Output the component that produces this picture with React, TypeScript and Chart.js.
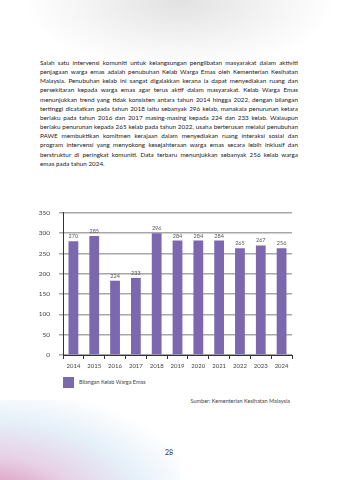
import React, { useEffect, useRef } from "react";
import { Chart, registerables } from "chart.js";

Chart.register(...registerables);

const years = ["2014", "2015", "2016", "2017", "2018", "2019", "2020", "2021", "2022", "2023", "2024"];
// bar heights as drawn in the reference
const barHeights = [280, 293, 183, 190, 300, 282, 282, 282, 263, 270, 263];
// value labels printed above the bars
const valueLabels = ["270", "285", "224", "233", "296", "284", "284", "284", "265", "267", "256"];
const yTicks = [0, 50, 100, 150, 200, 250, 300, 350];
const seriesName = "Bilangan Kelab Warga Emas";
const sourceText = "Sumber: Kementerian Kesihatan Malaysia";
const pageNumber = "28";

const paragraphLines = [
  "Salah satu intervensi komuniti untuk kelangsungan penglibatan masyarakat dalam aktiviti",
  "penjagaan warga emas adalah penubuhan Kelab Warga Emas oleh Kementerian Kesihatan",
  "Malaysia. Penubuhan kelab ini sangat digalakkan kerana ia dapat menyediakan ruang dan",
  "persekitaran kepada warga emas agar terus aktif dalam masyarakat. Kelab Warga Emas",
  "menunjukkan trend yang tidak konsisten antara tahun 2014 hingga 2022, dengan bilangan",
  "tertinggi dicatatkan pada tahun 2018 iaitu sebanyak 296 kelab, manakala penurunan ketara",
  "berlaku pada tahun 2016 dan 2017 masing-masing kepada 224 dan 233 kelab. Walaupun",
  "berlaku penurunan kepada 265 kelab pada tahun 2022, usaha berterusan melalui penubuhan",
  "PAWE membuktikan komitmen kerajaan dalam menyediakan ruang interaksi sosial dan",
  "program intervensi yang menyokong kesejahteraan warga emas secara lebih inklusif dan",
  "berstruktur di peringkat komuniti. Data terbaru menunjukkan sebanyak 256 kelab warga",
  "emas pada tahun 2024.",
];

const BAR_COLOR = "#7b68ae";
const FONT = "Lato, 'Open Sans', sans-serif";

const valueLabelPlugin = {
  id: "valueLabels",
  afterDatasetsDraw(chart: any) {
    const ctx = chart.ctx;
    const meta = chart.getDatasetMeta(0);
    ctx.save();
    ctx.font = `5.5px ${FONT}`;
    ctx.fillStyle = "#555";
    ctx.textAlign = "center";
    ctx.textBaseline = "bottom";
    meta.data.forEach((bar: any, i: number) => {
      ctx.fillText(valueLabels[i], bar.x, bar.y - 2);
    });
    ctx.restore();
  },
};

export default function App() {
  const canvasRef = useRef<HTMLCanvasElement>(null);

  useEffect(() => {
    const canvas = canvasRef.current;
    if (!canvas) return;
    const chart = new Chart(canvas, {
      type: "bar",
      data: {
        labels: years,
        datasets: [
          {
            label: seriesName,
            data: barHeights,
            backgroundColor: BAR_COLOR,
            borderWidth: 0,
            barPercentage: 0.47,
            categoryPercentage: 1,
          },
        ],
      },
      options: {
        responsive: false,
        animation: false,
        devicePixelRatio: 1,
        layout: { padding: { top: 10, right: 18, left: 0, bottom: 0 } },
        plugins: {
          legend: { display: false },
          tooltip: { enabled: false },
        },
        scales: {
          x: {
            grid: {
              display: true,
              drawOnChartArea: false,
              offset: true,
              tickLength: 4,
              color: "#333",
              lineWidth: 1,
            },
            border: { display: true, color: "#333", width: 1 },
            ticks: {
              color: "#444",
              font: { size: 6, family: FONT },
              padding: 3,
              maxRotation: 0,
              autoSkip: false,
            },
            afterFit: (scale: any) => {
              scale.height = 20;
            },
          },
          y: {
            min: 0,
            max: 350,
            afterBuildTicks: (scale: any) => {
              scale.ticks = yTicks.map((v) => ({ value: v }));
            },
            grid: {
              color: "#a8a8a8",
              lineWidth: 1.5,
              tickLength: 4,
            },
            border: { display: true, color: "#333", width: 1 },
            ticks: {
              color: "#444",
              font: { size: 6.5, family: FONT },
              padding: 9,
            },
            afterFit: (scale: any) => {
              scale.width = 43;
            },
          },
        },
      },
      plugins: [valueLabelPlugin],
    });
    return () => chart.destroy();
  }, []);

  return (
    <div
      style={{
        position: "absolute",
        left: 0,
        top: 0,
        width: 339,
        height: 480,
        overflow: "hidden",
        background: "#fff",
        fontFamily: FONT,
      }}
    >
      <div
        style={{
          position: "absolute",
          left: 30,
          top: -50,
          width: 300,
          height: 115,
          background:
            "radial-gradient(ellipse at 50% 45%, rgba(190,190,190,0.45), rgba(220,220,220,0.25) 50%, rgba(255,255,255,0) 75%)",
        }}
      />
      <div
        style={{
          position: "absolute",
          left: -50,
          top: 400,
          width: 230,
          height: 130,
          background:
            "radial-gradient(ellipse at 15% 85%, rgba(200,60,125,0.7), rgba(195,140,195,0.4) 35%, rgba(170,205,235,0.3) 58%, rgba(255,255,255,0) 80%)",
        }}
      />
      <div
        style={{
          position: "absolute",
          left: 40,
          top: 58,
          width: 258,
          fontSize: 6.3,
          lineHeight: "9.15px",
          color: "#222",
        }}
      >
        {paragraphLines.map((line, i) => (
          <div
            key={i}
            style={{
              whiteSpace: "nowrap",
              textAlign: i === paragraphLines.length - 1 ? "left" : "justify",
              textAlignLast: i === paragraphLines.length - 1 ? "left" : "justify",
            } as any}
          >
            {line}
          </div>
        ))}
      </div>
      <canvas
        ref={canvasRef}
        width={290}
        height={175}
        style={{ position: "absolute", left: 20, top: 200, width: 290, height: 175 }}
      />
      <div
        style={{
          position: "absolute",
          left: 63,
          top: 377,
          width: 11,
          height: 11,
          background: BAR_COLOR,
        }}
      />
      <div
        style={{
          position: "absolute",
          left: 79,
          top: 378.5,
          fontSize: 5.5,
          lineHeight: "7px",
          color: "#444",
          whiteSpace: "nowrap",
        }}
      >
        {seriesName}
      </div>
      <div
        style={{
          position: "absolute",
          right: 49,
          top: 397.5,
          fontSize: 5.5,
          lineHeight: "7px",
          color: "#444",
          whiteSpace: "nowrap",
        }}
      >
        {sourceText}
      </div>
      <div
        style={{
          position: "absolute",
          left: 159,
          width: 20,
          top: 448,
          textAlign: "center",
          fontSize: 7,
          lineHeight: "9px",
          color: "#333",
        }}
      >
        {pageNumber}
      </div>
    </div>
  );
}
